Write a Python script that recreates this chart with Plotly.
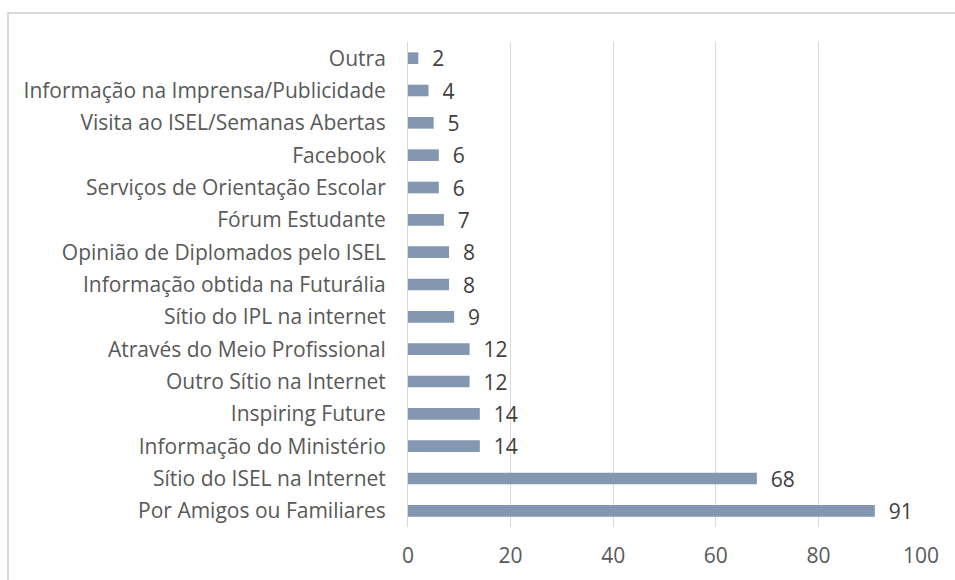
import plotly.graph_objects as go

categories = [
    "Outra",
    "Informação na Imprensa/Publicidade",
    "Visita ao ISEL/Semanas Abertas",
    "Facebook",
    "Serviços de Orientação Escolar",
    "Fórum Estudante",
    "Opinião de Diplomados pelo ISEL",
    "Informação obtida na Futurália",
    "Sítio do IPL na internet",
    "Através do Meio Profissional",
    "Outro Sítio na Internet",
    "Inspiring Future",
    "Informação do Ministério",
    "Sítio do ISEL na Internet",
    "Por Amigos ou Familiares",
]
values = [2, 4, 5, 6, 6, 7, 8, 8, 9, 12, 12, 14, 14, 68, 91]
x_ticks = [0, 20, 40, 60, 80, 100]

W, H = 955, 580
L, R, T, B = 408, 34, 42, 53
pw, ph = W - L - R, H - T - B
FS = 21

fig = go.Figure(go.Bar(
    y=categories, x=values, orientation="h",
    marker=dict(color="#8497B0", line=dict(width=0)),
    width=0.36,
    text=["\u00a0\u00a0" + str(v) for v in values], textposition="outside",
    constraintext="none",
    textfont=dict(family="Open Sans", size=FS, color="#404040"),
    cliponaxis=False,
))

fig.update_layout(
    width=W, height=H,
    margin=dict(l=L, r=R, t=T, b=B),
    paper_bgcolor="white", plot_bgcolor="white",
    showlegend=False,
    font=dict(family="Open Sans", size=FS, color="#595959"),
    xaxis=dict(range=[0, 100], tickvals=x_ticks, showgrid=True,
               gridcolor="#d9d9d9", gridwidth=1, zeroline=False,
               showline=False, ticks="", ticklabelstandoff=14,
               tickfont=dict(size=FS, color="#595959")),
    yaxis=dict(categoryorder="array", categoryarray=categories[::-1],
               showgrid=False, zeroline=False, showline=True, linecolor="#d9d9d9",
               linewidth=1, ticks="", ticklabelstandoff=17,
               tickfont=dict(size=FS, color="#595959")),
    shapes=[dict(type="rect", xref="paper", yref="paper",
                 x0=(8 - L) / pw, x1=(W + 20 - L) / pw,
                 y0=-(B + 20) / ph, y1=(H - 13 - B) / ph,
                 line=dict(color="#d9d9d9", width=2), fillcolor="rgba(0,0,0,0)",
                 layer="below")],
)

fig.write_html("out.html", config={"displayModeBar": False},
               post_script="document.body.style.margin='0';document.body.style.overflow='hidden';")
